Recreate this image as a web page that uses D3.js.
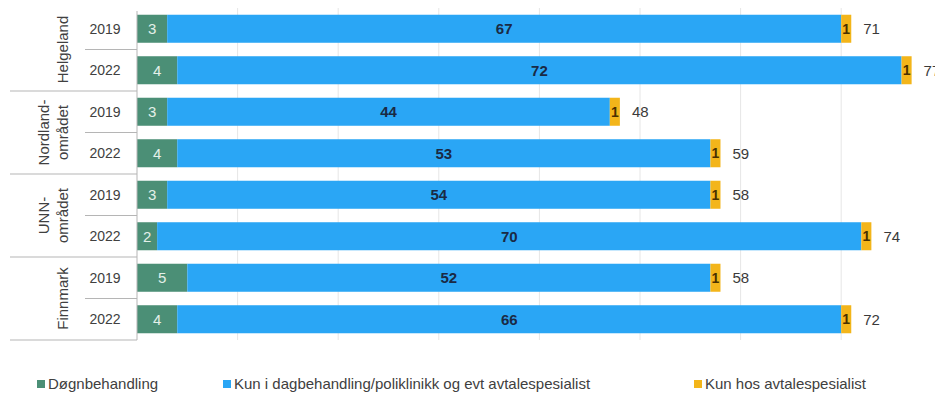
<!DOCTYPE html>
<html>
<head>
<meta charset="utf-8">
<script src="https://cdn.jsdelivr.net/npm/d3@7"></script>
<style>
  html, body { margin: 0; padding: 0; background: #fff; }
  svg { display: block; font-family: "Liberation Sans", Arial, sans-serif; }
</style>
</head>
<body>
<svg id="chart" width="935" height="399"></svg>
<script>
// Regions (outer category) and years (inner category), top to bottom
const regions = [["Helgeland"], ["Nordland-", "området"], ["UNN-", "området"], ["Finnmark"]];
const years = ["2019", "2022"];

// Series values, one entry per row (region × year)
const dogn   = [3, 4, 3, 4, 3, 2, 5, 4];
const dag    = [67, 72, 44, 53, 54, 70, 52, 66];
const avtale = [1, 1, 1, 1, 1, 1, 1, 1];
const totals = [71, 77, 48, 59, 58, 74, 58, 72];

const seriesNames = ["Døgnbehandling", "Kun i dagbehandling/poliklinikk og evt avtalespesialist", "Kun hos avtalespesialist"];
const seriesColors = ["#4b8f76", "#2aa6f5", "#f3b51a"];
const labelColors = ["#e4efe9", "#1a2a44", "#4a3000"];

const rows = [];
regions.forEach((r, gi) => years.forEach((yr, yi) => {
  const i = gi * years.length + yi;
  rows.push({ id: i, region: gi, year: yr, values: [dogn[i], dag[i], avtale[i]], total: totals[i] });
}));

const svg = d3.select("#chart");
const plotLeft = 137;
const plotTop = 8;
const plotBottom = 340;

const x = d3.scaleLinear().domain([0, 80]).range([plotLeft, plotLeft + 80 * 10.06]);
const y = d3.scaleBand().domain(rows.map(d => d.id)).range([plotTop, plotBottom]).paddingInner(0.325).paddingOuter(0.1625);

// Faint vertical gridlines
svg.append("g").selectAll("line").data(d3.range(10, 81, 10)).join("line")
  .attr("x1", d => x(d)).attr("x2", d => x(d))
  .attr("y1", plotTop).attr("y2", plotBottom)
  .attr("stroke", "#e6e6e6").attr("stroke-width", 1);

// Stacked bars
const stack = rows.map(d => {
  let acc = 0;
  return d.values.map((v, k) => { const s = { row: d, k, x0: acc, x1: acc + v, v }; acc += v; return s; });
});

const gBars = svg.append("g");
stack.forEach(segs => {
  gBars.selectAll(null).data(segs).join("rect")
    .attr("x", s => x(s.x0))
    .attr("y", s => y(s.row.id))
    .attr("width", s => x(s.x1) - x(s.x0))
    .attr("height", y.bandwidth())
    .attr("fill", s => seriesColors[s.k]);
  gBars.selectAll(null).data(segs).join("text")
    .attr("x", s => (x(s.x0) + x(s.x1)) / 2)
    .attr("y", s => y(s.row.id) + y.bandwidth() / 2)
    .attr("dy", "0.36em")
    .attr("text-anchor", "middle")
    .attr("font-size", s => s.k === 2 ? 14 : 15)
    .attr("font-weight", s => s.k === 0 ? "normal" : "bold")
    .attr("fill", s => labelColors[s.k])
    .text(s => s.v);
});

// Totals at the end of each bar
svg.append("g").selectAll("text").data(stack).join("text")
  .attr("x", segs => x(segs[segs.length - 1].x1) + 12)
  .attr("y", segs => y(segs[0].row.id) + y.bandwidth() / 2)
  .attr("dy", "0.36em")
  .attr("font-size", 15)
  .attr("fill", "#3a3a3a")
  .text(segs => segs[0].row.total);

// Category axis: vertical line, tick separators, year and region labels
const axisColor = "#b5b5b5";
const step = y.step();
svg.append("line")
  .attr("x1", plotLeft).attr("x2", plotLeft)
  .attr("y1", plotTop + 3).attr("y2", plotBottom)
  .attr("stroke", axisColor);

const gAxis = svg.append("g");
rows.forEach((d, i) => {
  const yb = plotTop + step * (i + 1);
  const last = (i + 1) % years.length === 0;
  gAxis.append("line")
    .attr("x1", last ? 10 : 85).attr("x2", plotLeft)
    .attr("y1", yb).attr("y2", yb)
    .attr("stroke", axisColor);
  gAxis.append("text")
    .attr("x", 105)
    .attr("y", y(d.id) + y.bandwidth() / 2)
    .attr("dy", "0.36em")
    .attr("text-anchor", "middle")
    .attr("font-size", 14)
    .attr("fill", "#404040")
    .text(d.year);
});

regions.forEach((lines, gi) => {
  const cy = plotTop + step * years.length * (gi + 0.5);
  const lineGap = 19;
  const xs = lines.length === 1 ? [63] : [63 - lineGap, 63];
  lines.forEach((t, li) => {
    gAxis.append("text")
      .attr("transform", `translate(${xs[li] + 5},${cy}) rotate(-90)`)
      .attr("text-anchor", "middle")
      .attr("font-size", 15)
      .attr("fill", "#404040")
      .text(t);
  });
});

// Legend
const legendX = [37, 223, 694];
const gLeg = svg.append("g");
seriesNames.forEach((name, k) => {
  gLeg.append("rect")
    .attr("x", legendX[k]).attr("y", 380)
    .attr("width", 8).attr("height", 8)
    .attr("fill", seriesColors[k]);
  gLeg.append("text")
    .attr("x", legendX[k] + 11).attr("y", 384)
    .attr("dy", "0.36em")
    .attr("font-size", 15)
    .attr("fill", "#404040")
    .text(name);
});
</script>
</body>
</html>
